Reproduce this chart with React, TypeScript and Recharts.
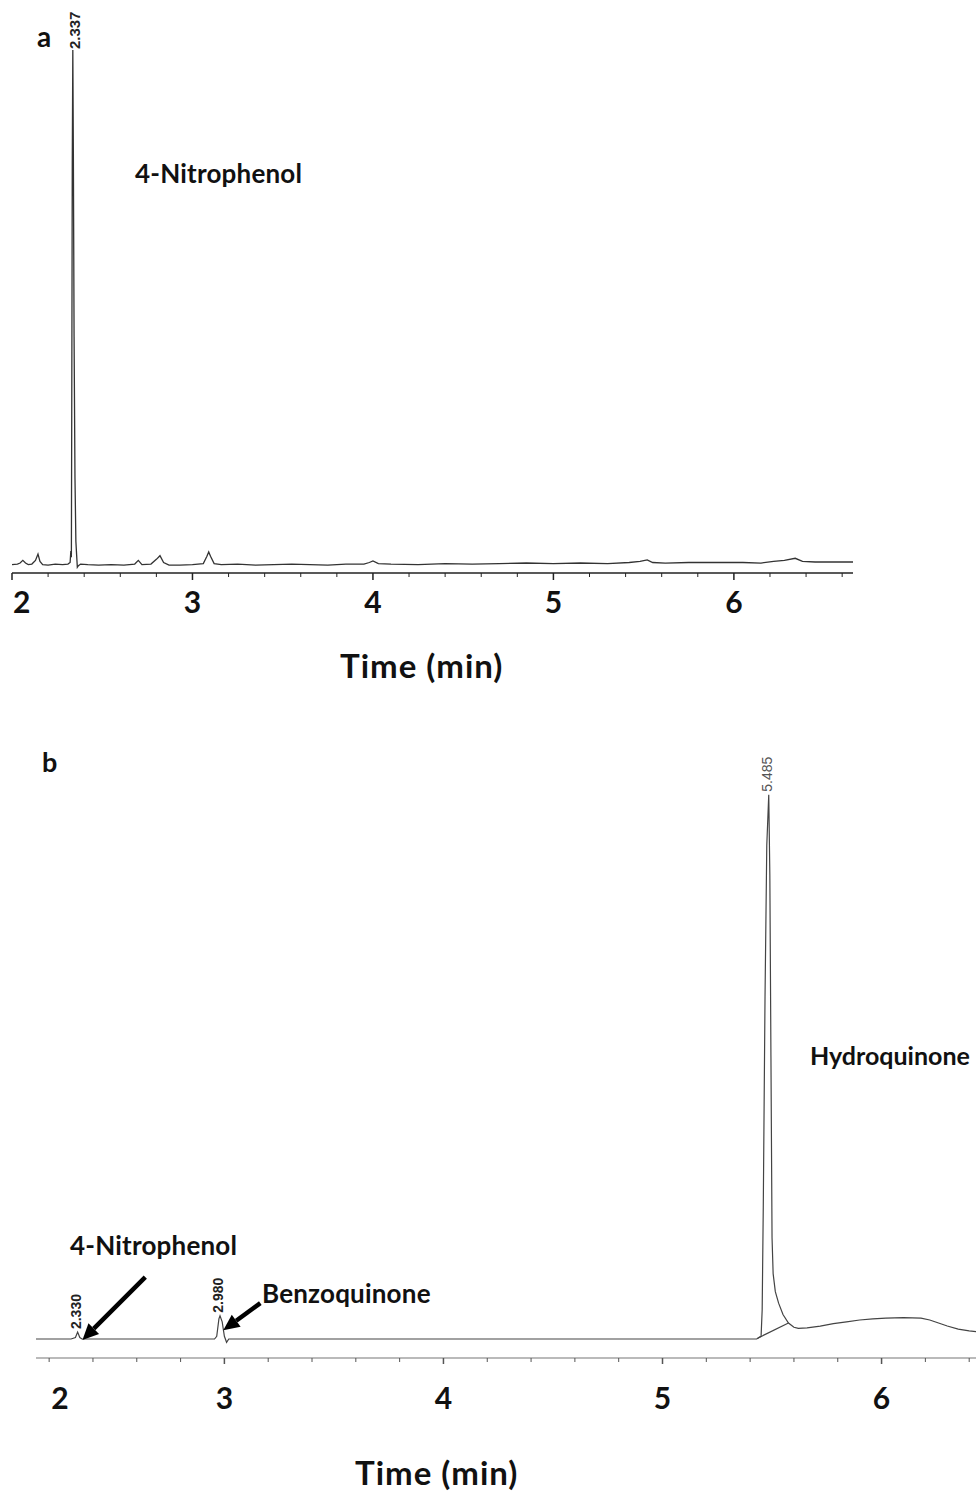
import { ComposedChart, Line, Scatter, XAxis, YAxis, ReferenceLine } from 'recharts'

// panel a: 4-nitrophenol before reduction
const topTime = [
  2.0, 2.03, 2.045, 2.06, 2.075, 2.09, 2.11, 2.13, 2.144, 2.155, 2.17, 2.2, 2.24, 2.28, 2.31,
  2.322, 2.326, 2.329, 2.331, 2.334, 2.337, 2.34, 2.344, 2.349, 2.354, 2.358, 2.362, 2.368, 2.38,
  2.42, 2.48, 2.55, 2.62, 2.68, 2.7, 2.72, 2.77, 2.8, 2.82, 2.84, 2.87, 2.93, 3.0, 3.06, 3.08,
  3.09, 3.1, 3.12, 3.16, 3.25, 3.35, 3.45, 3.55, 3.65, 3.75, 3.85, 3.95, 3.98, 4.0, 4.03, 4.1,
  4.25, 4.4, 4.55, 4.7, 4.85, 5.0, 5.15, 5.3, 5.42, 5.48, 5.52, 5.55, 5.62, 5.75, 5.9, 6.05,
  6.15, 6.22, 6.28, 6.34, 6.38, 6.45, 6.55, 6.66,
]
const topSignal = [
  1.6, 1.7, 1.9, 2.4, 1.9, 1.6, 1.7, 2.4, 3.6, 2.2, 1.6, 1.5, 1.7, 1.6, 1.7,
  2.0, 4.2, 3.0, 30, 78, 99.6, 80, 45, 18, 6, 3.5, 1.1, 1.4, 1.7,
  1.6, 1.5, 1.6, 1.5, 1.7, 2.4, 1.6, 1.7, 2.6, 3.3, 2.0, 1.5, 1.5, 1.6, 1.8, 3.2,
  4.0, 3.2, 1.8, 1.6, 1.7, 1.5, 1.6, 1.7, 1.6, 1.5, 1.7, 1.7, 2.0, 2.3, 1.8, 1.7,
  1.6, 1.8, 1.7, 1.8, 1.9, 1.8, 1.9, 1.8, 2.0, 2.2, 2.5, 2.0, 1.9, 2.0, 2.0, 2.0,
  1.9, 2.2, 2.4, 2.8, 2.2, 2.1, 2.1, 2.1,
]
const topTicks = [
  2, 2.2, 2.4, 2.6, 2.8, 3, 3.2, 3.4, 3.6, 3.8, 4, 4.2, 4.4, 4.6, 4.8, 5, 5.2, 5.4, 5.6, 5.8, 6, 6.2, 6.4, 6.6,
]
const topPeakTimes = [2.337]
const topPeakHeights = [99.6]
const topPeakLabels = ['2.337']

// panel b: after reduction
const bottomTime = [
  2.14, 2.3, 2.32, 2.33, 2.34, 2.35, 2.6, 2.9, 2.955, 2.965, 2.975, 2.98, 2.99, 3.0, 3.01, 3.02,
  3.4, 4.0, 4.6, 5.0, 5.43, 5.44, 5.45, 5.455, 5.46, 5.468, 5.476, 5.485, 5.49, 5.495, 5.5,
  5.505, 5.515, 5.53, 5.55, 5.575, 5.6, 5.62, 5.66, 5.72, 5.78, 5.84, 5.9, 5.96, 6.02, 6.1,
  6.18, 6.22, 6.26, 6.3, 6.35, 6.4, 6.45, 6.5, 6.6,
]
const bottomSignal = [
  3.15, 3.15, 3.4, 4.3, 3.4, 3.15, 3.15, 3.15, 3.15, 3.6, 6.5, 7.0, 6.0, 3.6, 2.6, 3.15,
  3.15, 3.15, 3.15, 3.15, 3.15, 3.4, 3.6, 8, 25, 60, 85, 93.4, 80, 50, 20,
  14, 11, 9.1, 7.2, 5.8, 5.1, 4.9, 5.0, 5.3, 5.7, 6.0, 6.3, 6.5, 6.6, 6.7,
  6.6, 6.3, 5.8, 5.3, 4.8, 4.5, 4.3, 4.2, 4.1,
]
const integBaseTime = [5.435, 5.575]
const integBaseSignal = [3.3, 5.8]
const bottomTicks = [
  2.2, 2.4, 2.6, 2.8, 3, 3.2, 3.4, 3.6, 3.8, 4, 4.2, 4.4, 4.6, 4.8, 5, 5.2, 5.4, 5.6, 5.8, 6, 6.2, 6.4, 6.6,
]
const bottomPeakTimes = [2.33, 2.98, 5.485]
const bottomPeakHeights = [4.3, 7.0, 93.4]
const bottomPeakLabels = ['2.330', '2.980', '5.485']
const bottomPeakBold = [true, true, false]

const topData = topTime.map((t, i) => ({ t, v: topSignal[i] }))
const topPeaks = topPeakTimes.map((t, i) => ({ t, v: topPeakHeights[i], label: topPeakLabels[i], bold: true }))
const bottomData = bottomTime.map((t, i) => ({ t, v: bottomSignal[i] }))
const integData = integBaseTime.map((t, i) => ({ t, v: integBaseSignal[i] }))
const bottomPeaks = bottomPeakTimes.map((t, i) => ({
  t, v: bottomPeakHeights[i], label: bottomPeakLabels[i], bold: bottomPeakBold[i],
}))

const FONT = 'Lato, "Open Sans", sans-serif'

const makeTick = (first: number, majorLen: number, minorLen: number, labelDy: number, firstDx: number, color: string) =>
  (props: any) => {
    const { x, y, payload } = props
    const v = payload.value
    const isMajor = Math.abs(v - Math.round(v)) < 0.01
    const isFirst = Math.abs(v - first) < 0.001
    const label = isFirst ? String(Math.floor(v + 0.001)) : isMajor ? String(Math.round(v)) : null
    return (
      <g>
        <line x1={x} x2={x} y1={y} y2={y + (isMajor ? majorLen : minorLen)} stroke={color} strokeWidth={isMajor ? 1.5 : 1} />
        {label && (
          <text x={isFirst ? x + firstDx : x} y={y + labelDy} textAnchor={isFirst ? 'start' : 'middle'}
            fontFamily={FONT} fontWeight={700} fontSize={30} fill="#111">{label}</text>
        )}
      </g>
    )
  }

const makePeakLabel = (gap: number, shift: number, size: number) => (props: any) => {
  const { cx, cy, payload } = props
  return (
    <text transform={`rotate(-90 ${cx} ${cy})`} x={cx + gap} y={cy + shift} dominantBaseline="central"
      fontFamily='"Liberation Sans", Arial, sans-serif' fontWeight={payload.bold ? 700 : 400}
      fontSize={size} fill={payload.bold ? '#222' : '#555'}>{payload.label}</text>
  )
}

const Arrow = (props: any) => {
  const { x1, y1, x2, y2 } = props
  const dx = x2 - x1
  const dy = y2 - y1
  const len = Math.sqrt(dx * dx + dy * dy)
  const ux = dx / len
  const uy = dy / len
  const head = 16
  const bx = x2 - ux * head
  const by = y2 - uy * head
  const px = -uy * 7.5
  const py = ux * 7.5
  return (
    <g>
      <line x1={x1} y1={y1} x2={bx} y2={by} stroke="#000" strokeWidth={4.5} />
      <polygon points={`${x2},${y2} ${bx + px},${by + py} ${bx - px},${by - py}`} fill="#000" />
    </g>
  )
}

const txt = (s: string, left: number, top: number, size: number, spacing = 0) => (
  <div style={{
    position: 'absolute', left, top, fontFamily: FONT, fontWeight: 700, fontSize: size,
    lineHeight: 1, whiteSpace: 'nowrap', color: '#111', letterSpacing: spacing,
  }}>{s}</div>
)

export default function App() {
  return (
    <div style={{ position: 'absolute', left: 0, top: 0, width: 976, height: 1491, overflow: 'hidden', background: '#fff' }}>
      <div style={{ position: 'absolute', left: 0, top: 0 }}>
        <ComposedChart width={976} height={700} margin={{ top: 48, right: 123, left: 12, bottom: 0 }}>
          <XAxis dataKey="t" type="number" domain={[2, 6.66]} ticks={topTicks} interval={0}
            height={127} tickSize={0} tickMargin={0} tickLine={false}
            axisLine={{ stroke: '#222', strokeWidth: 1.5 }}
            tick={makeTick(2, 7, 4, 40, 1, '#222')} />
          <YAxis type="number" domain={[0, 100]} width={0} tick={false} tickLine={false}
            axisLine={{ stroke: '#222', strokeWidth: 1.2 }} />
          <Line data={topData} dataKey="v" type="linear" stroke="#333" strokeWidth={1.3}
            dot={false} isAnimationActive={false} />
          <Scatter data={topPeaks} dataKey="v" shape={makePeakLabel(1, 2, 15)} isAnimationActive={false} />
        </ComposedChart>
      </div>

      <div style={{ position: 'absolute', left: 0, top: 700 }}>
        <ComposedChart width={1030} height={791} margin={{ top: 55, right: 17, left: 36, bottom: 0 }}>
          <XAxis dataKey="t" type="number" domain={[2.14, 6.6]} ticks={bottomTicks} interval={0}
            height={133} tickSize={0} tickMargin={0} tickLine={false}
            axisLine={{ stroke: '#777', strokeWidth: 1.2 }}
            tick={makeTick(2.2, 6, 4, 51, 2, '#555')} />
          <YAxis type="number" domain={[0, 100]} width={0} tick={false} tickLine={false}
            axisLine={{ stroke: '#777', strokeWidth: 1.5 }} />
          <Line data={bottomData} dataKey="v" type="linear" stroke="#444" strokeWidth={1.2}
            dot={false} isAnimationActive={false} />
          <Line data={integData} dataKey="v" type="linear" stroke="#444" strokeWidth={1.2}
            dot={false} isAnimationActive={false} />
          <Scatter data={bottomPeaks} dataKey="v" shape={makePeakLabel(3, -2, 14)} isAnimationActive={false} />
          <ReferenceLine segment={[{ x: 2.639, y: 13.4 }, { x: 2.352, y: 3.0 }]} shape={Arrow} />
          <ReferenceLine segment={[{ x: 3.164, y: 9.1 }, { x: 2.995, y: 4.6 }]} shape={Arrow} />
        </ComposedChart>
      </div>

      {txt('a', 37, 22, 28)}
      {txt('4-Nitrophenol', 135, 160, 26, 0.2)}
      {txt('Time (min)', 340, 649, 33, 1)}
      {txt('b', 42, 748, 27)}
      {txt('Hydroquinone', 810, 1043, 25)}
      {txt('4-Nitrophenol', 70, 1232, 26, 0.2)}
      {txt('Benzoquinone', 262, 1280, 26, 0.2)}
      {txt('Time (min)', 355, 1456, 33, 1)}
    </div>
  )
}
